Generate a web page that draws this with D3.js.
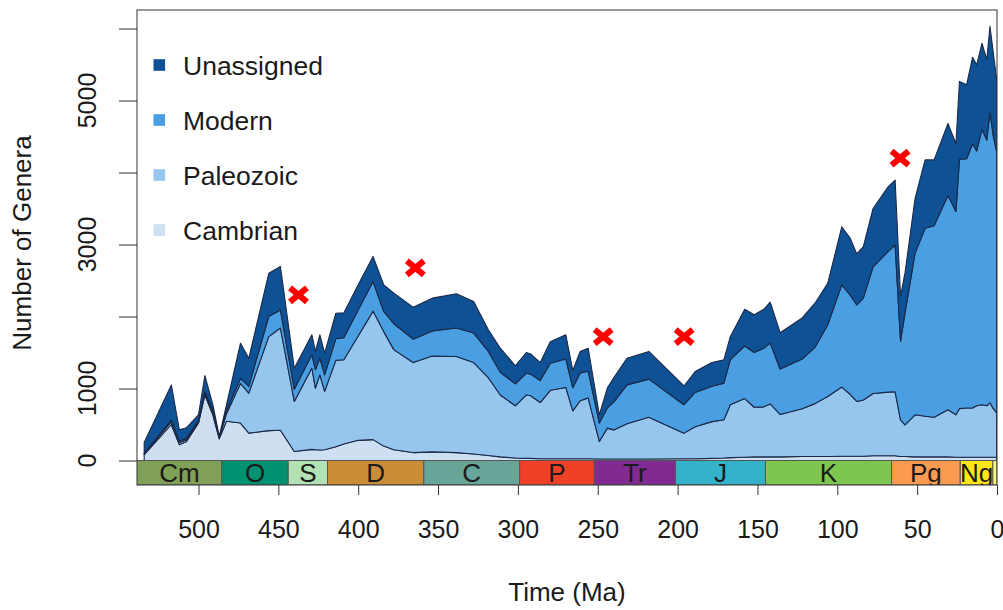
<!DOCTYPE html>
<html><head><meta charset="utf-8">
<script src="https://cdn.jsdelivr.net/npm/d3@7"></script>
<style>
html,body{margin:0;padding:0;background:#fff;}
svg{display:block;font-family:"Liberation Sans",Arial,sans-serif;}
</style></head><body>
<svg id="chart" width="1003" height="610"></svg>
<script>
// Genus richness through the Phanerozoic, split by evolutionary fauna (Ma, genera)
const ages = [534, 517, 512, 507.5, 500, 496, 491, 487, 482.5, 473.7, 468.5, 456, 448.7, 440, 429, 426.8, 424, 421, 414, 409,
  400, 390.7, 384, 377.7, 365.6, 353.6, 338.5, 327.7, 318.5, 311, 301.6, 294.7, 292, 286, 279.7, 270, 265.6, 261, 256, 249,
  244, 240, 231.7, 218, 196, 189, 178.5, 171, 167, 158, 152, 146, 142, 135.8, 122, 114, 106, 97.2, 92, 87.8,
  83.7, 77.6, 68.2, 63.8, 60.4, 57.6, 51.3, 45, 39.4, 30.7, 25.7, 23.5, 19, 15.3, 12.7, 9.4, 6.4, 4.4, 2.3, 0.2];
const cambrian = [80, 500, 220, 265, 520, 910, 635, 300, 545, 520, 380, 415, 420, 125, 155, 150, 145, 150, 190, 230,
  280, 290, 200, 150, 110, 120, 110, 90, 70, 50, 35, 30, 30, 25, 25, 25, 25, 25, 25, 20,
  20, 20, 20, 20, 25, 25, 30, 35, 40, 45, 50, 50, 50, 50, 55, 55, 55, 60, 60, 60,
  60, 65, 65, 65, 55, 55, 50, 50, 50, 50, 45, 45, 45, 45, 45, 45, 45, 45, 45, 45];
const paleozoic = [10, 40, 30, 25, 20, 30, 30, 15, 105, 550, 555, 1305, 1420, 695, 1130, 855, 1045, 810, 1200, 1170,
  1450, 1785, 1590, 1390, 1250, 1330, 1335, 1270, 1080, 860, 725, 880, 870, 780, 950, 990, 665, 805, 845, 245,
  430, 405, 490, 580, 355, 445, 510, 530, 735, 815, 690, 695, 735, 590, 665, 735, 835, 960, 860, 760,
  780, 865, 885, 890, 510, 440, 585, 565, 550, 655, 590, 675, 685, 685, 715, 730, 715, 755, 675, 615];
const modern = [10, 20, 20, 20, 20, 20, 25, 10, 40, 70, 95, 280, 250, 170, 185, 255, 230, 230, 300, 305,
  360, 410, 280, 360, 325, 350, 395, 410, 365, 315, 305, 305, 300, 305, 375, 395, 320, 385, 370, 255,
  280, 385, 540, 530, 395, 475, 490, 510, 625, 730, 760, 815, 845, 630, 690, 780, 995, 1420, 1380, 1340,
  1415, 1760, 1950, 2040, 1090, 1555, 2245, 2610, 2660, 2975, 2825, 3465, 3460, 3670, 3540, 3825, 3690, 4040, 3780, 3630];
const unassigned = [150, 490, 155, 145, 75, 220, 85, 10, 80, 490, 390, 600, 605, 290, 275, 255, 325, 300, 355, 345,
  350, 350, 370, 425, 445, 455, 475, 440, 300, 335, 250, 285, 280, 250, 300, 335, 240, 300, 320, 115,
  275, 340, 370, 385, 260, 290, 330, 325, 320, 510, 525, 540, 570, 505, 570, 615, 575, 805, 790, 710,
  715, 810, 900, 900, 625, 555, 760, 950, 915, 1000, 940, 1080, 1030, 1200, 1195, 1195, 1115, 1190, 1160, 1000];

const seriesKeys = ["cambrian", "paleozoic", "modern", "unassigned"];
const seriesNames = ["Cambrian", "Paleozoic", "Modern", "Unassigned"];
const seriesColors = ["#cddff0", "#96c5ee", "#4a9fe2", "#0e5194"];

// Mass extinction markers
const extinctionAges = [437.4, 364.2, 246.6, 195.9, 60.7];
const extinctionValues = [2300, 2675, 1720, 1720, 4200];

// Geological periods for the time bar
const periodNames = ["Cm", "O", "S", "D", "C", "P", "Tr", "J", "K", "Pg", "Ng", ""];
const periodStart = [541, 485.4, 443.8, 419.2, 358.9, 298.9, 252.2, 201.3, 145, 66, 23, 2.58];
const periodEnd = [485.4, 443.8, 419.2, 358.9, 298.9, 252.2, 201.3, 145, 66, 23, 2.58, 0];
const periodColors = ["#7fa056", "#009270", "#b3e1b6", "#cb8c37", "#67a599", "#f04028", "#812b92", "#34b2c9", "#7fc64e", "#fd9a52", "#ffe619", "#f9f97f"];

const xTicks = [500, 450, 400, 350, 300, 250, 200, 150, 100, 50, 0];
const yTicks = [0, 1000, 2000, 3000, 4000, 5000, 6000];
const yTickLabels = ["0", "1000", "", "3000", "", "5000", ""];

const svg = d3.select("#chart");
const plotLeft = 137, plotRight = 997, plotTop = 10, plotBottom = 485;

const x = d3.scaleLinear().domain([538.5, 0]).range([plotLeft, plotRight]);
const y = d3.scaleLinear().domain([0, 6000]).range([460.5, 28.5]);

const rows = ages.map((a, i) => ({
  age: a, cambrian: cambrian[i], paleozoic: paleozoic[i], modern: modern[i], unassigned: unassigned[i]
}));
const stacked = d3.stack().keys(seriesKeys)(rows);

svg.append("defs").append("clipPath").attr("id", "plotClip")
  .append("rect").attr("x", plotLeft).attr("y", plotTop)
  .attr("width", plotRight - plotLeft).attr("height", plotBottom - plotTop);

const area = d3.area()
  .x(d => x(d.data.age))
  .y0(d => y(d[0]))
  .y1(d => y(d[1]));

svg.append("g").attr("clip-path", "url(#plotClip)")
  .selectAll("path").data(stacked).join("path")
  .attr("d", area)
  .attr("fill", (d, i) => seriesColors[i])
  .attr("stroke", "#1b2948")
  .attr("stroke-width", 1.1)
  .attr("stroke-linejoin", "round");

// Period bar beneath the zero line
const barTop = y(0), barBottom = plotBottom;
const bar = svg.append("g").attr("clip-path", "url(#plotClip)");
const periods = periodNames.map((n, i) => ({ name: n, s: periodStart[i], e: periodEnd[i], c: periodColors[i] }));
bar.selectAll("rect").data(periods).join("rect")
  .attr("x", d => x(d.s))
  .attr("y", barTop)
  .attr("width", d => x(d.e) - x(d.s))
  .attr("height", barBottom - barTop)
  .attr("fill", d => d.c)
  .attr("stroke", "#555")
  .attr("stroke-width", 1);
bar.selectAll("text").data(periods).join("text")
  .attr("x", d => (Math.max(x(d.s), plotLeft) + x(d.e)) / 2)
  .attr("y", (barTop + barBottom) / 2)
  .attr("dy", "0.36em")
  .attr("text-anchor", "middle")
  .attr("font-size", 26)
  .attr("fill", "#1a1a1a")
  .text(d => d.name);

// Frame
svg.append("rect").attr("x", plotLeft).attr("y", plotTop)
  .attr("width", plotRight - plotLeft).attr("height", plotBottom - plotTop)
  .attr("fill", "none").attr("stroke", "#333").attr("stroke-width", 1);

// Y axis
const yAxis = svg.append("g").attr("transform", `translate(${plotLeft},0)`)
  .call(d3.axisLeft(y).tickValues(yTicks).tickSize(18).tickFormat(""));
yAxis.select(".domain").remove();
yAxis.selectAll(".tick line").attr("stroke", "#333");
svg.append("g").selectAll("text").data(yTicks).join("text")
  .attr("transform", d => `translate(87,${y(d)}) rotate(-90)`)
  .attr("dy", "0.36em")
  .attr("text-anchor", "middle")
  .attr("font-size", 25)
  .attr("fill", "#1a1a1a")
  .text((d, i) => yTickLabels[i]);

// X axis
const xAxis = svg.append("g").attr("transform", `translate(0,${plotBottom})`)
  .call(d3.axisBottom(x).tickValues(xTicks).tickSize(10).tickPadding(25).tickFormat(d3.format("d")));
xAxis.select(".domain").remove();
xAxis.selectAll(".tick line").attr("stroke", "#333");
xAxis.selectAll(".tick text").attr("font-size", 25).attr("fill", "#1a1a1a")
  .attr("font-family", "Liberation Sans, Arial, sans-serif");

// Axis titles
svg.append("text").attr("transform", "translate(22,243) rotate(-90)")
  .attr("dy", "0.36em").attr("text-anchor", "middle").attr("font-size", 26).attr("fill", "#1a1a1a")
  .text("Number of Genera");
svg.append("text").attr("x", (plotLeft + plotRight) / 2).attr("y", 592)
  .attr("dy", "0.36em").attr("text-anchor", "middle").attr("font-size", 26).attr("fill", "#1a1a1a")
  .text("Time (Ma)");

// Legend
const legendOrder = [3, 2, 1, 0];
const legend = svg.append("g");
legendOrder.forEach((k, j) => {
  const cy = 65 + j * 55;
  legend.append("rect").attr("x", 153.5).attr("y", cy - 5.8).attr("width", 11.6).attr("height", 11.6)
    .attr("fill", seriesColors[k]);
  legend.append("text").attr("x", 183).attr("y", cy).attr("dy", "0.36em")
    .attr("font-size", 26.5).attr("fill", "#1a1a1a").text(seriesNames[k]);
});

// Extinction markers
svg.append("g").selectAll("path").data(extinctionAges).join("path")
  .attr("transform", (d, i) => `translate(${x(d)},${y(extinctionValues[i])})`)
  .attr("d", "M-8.5,-7L8.5,7M-8.5,7L8.5,-7")
  .attr("stroke", "#ff0000")
  .attr("stroke-width", 6)
  .attr("fill", "none");
</script></body></html>
